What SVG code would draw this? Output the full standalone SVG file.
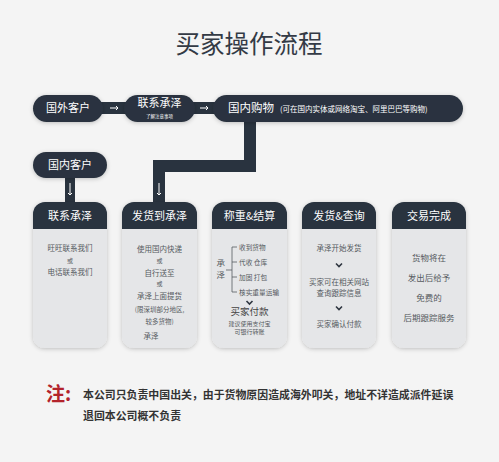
<svg xmlns="http://www.w3.org/2000/svg" width="499" height="462" viewBox="0 0 499 462">
<defs>
<filter id="sh" x="-20%" y="-20%" width="140%" height="140%">
<feDropShadow dx="0" dy="1" stdDeviation="2" flood-color="#000" flood-opacity="0.22"/>
</filter>
<style>
text{font-family:"Noto Sans CJK SC","Noto Sans",sans-serif;}
.dark{fill:#29333f;}
.pill{fill:#29333f;filter:url(#sh);}
.body{fill:#e5e6e8;filter:url(#sh);}
.wt{fill:#ffffff;text-anchor:middle;}
.ht{fill:#ffffff;text-anchor:middle;font-size:11px;}
.ct{fill:#555a60;text-anchor:middle;font-size:7.5px;}
.st{fill:#555a60;font-size:6.7px;}
.chev{fill:none;stroke:#2f3640;stroke-width:1.6;}
.br{fill:none;stroke:#555a60;stroke-width:0.8;}
.arw{stroke:#ffffff;stroke-width:1;fill:none;}
</style>
</defs>
<rect width="499" height="462" fill="#f4f4f4"/>
<text x="249" y="53" text-anchor="middle" font-size="24.5" fill="#333a45">买家操作流程</text>

<g id="connectors">
<rect class="dark" x="100" y="102" width="27" height="12"/>
<path class="arw" d="M110 108 H118 M116 106 L118 108 L116 110"/>
<rect class="dark" x="192" y="102" width="24" height="12"/>
<path class="arw" d="M200 108 H208 M206 106 L208 108 L206 110"/>
<path class="dark" d="M244 118 H256 V172 H165 V204 H153 V160 H244 Z"/>
<path class="arw" d="M159 183 V195 M157 193 L159 195 L161 193"/>
<rect class="dark" x="65" y="175" width="10" height="29"/>
<path class="arw" d="M70 183 V195 M68 193 L70 195 L72 193"/>
</g>

<g id="n-foreign">
<rect class="pill" x="33" y="95" width="70" height="27" rx="13.5"/>
<text class="wt" x="68" y="112" style="font-size:11px">国外客户</text>
</g>
<g id="n-contact-top">
<rect class="pill" x="124" y="95" width="71" height="27" rx="13.5"/>
<text class="wt" x="159.5" y="107" style="font-size:11px">联系承泽</text>
<text class="wt" x="159.5" y="118" style="font-size:4.5px">了解注意事项</text>
</g>
<g id="n-domestic-buy">
<rect class="pill" x="213" y="95" width="250" height="27" rx="13.5"/>
<text x="228" y="112" font-size="11.5" fill="#ffffff">国内购物<tspan font-size="7.5" dx="6">(可在国内实体或网络淘宝、阿里巴巴等购物)</tspan></text>
</g>
<g id="n-domestic">
<rect class="pill" x="33" y="152" width="74" height="26" rx="13"/>
<text class="wt" x="70" y="169" style="font-size:11px">国内客户</text>
</g>

<g id="card1">
<rect class="body" x="33" y="202" width="74" height="146" rx="12"/>
<path class="dark" d="M33 229 V214 A12 12 0 0 1 45 202 H95 A12 12 0 0 1 107 214 V229 Z"/>
<text class="ht" x="70" y="220">联系承泽</text>
<text class="ct" x="70" y="251">旺旺联系我们</text>
<text class="ct" x="70" y="263" style="font-size:6px">或</text>
<text class="ct" x="70" y="275">电话联系我们</text>
</g>

<g id="card2">
<rect class="body" x="122" y="202" width="75" height="146" rx="12"/>
<path class="dark" d="M122 229 V214 A12 12 0 0 1 134 202 H185 A12 12 0 0 1 197 214 V229 Z"/>
<text class="ht" x="159.5" y="220">发货到承泽</text>
<text class="ct" x="159.5" y="252">使用国内快递</text>
<text class="ct" x="159.5" y="263" style="font-size:6px">或</text>
<text class="ct" x="159.5" y="276">自行送至</text>
<text class="ct" x="159.5" y="286" style="font-size:6px">或</text>
<text class="ct" x="159.5" y="299">承泽上面提货</text>
<text class="ct" x="159.5" y="312" style="font-size:6.5px">(限深圳部分地区,</text>
<text class="ct" x="159.5" y="324" style="font-size:6.5px">较多货物)</text>
<text class="ct" x="151" y="339">承泽</text>
</g>

<g id="card3">
<rect class="body" x="212" y="202" width="75" height="146" rx="12"/>
<path class="dark" d="M212 229 V214 A12 12 0 0 1 224 202 H275 A12 12 0 0 1 287 214 V229 Z"/>
<text class="ht" x="249.5" y="220">称重&amp;结算</text>
<text class="st" x="216.5" y="266" style="font-size:8.5px">承</text>
<text class="st" x="216.5" y="277.5" style="font-size:8.5px">泽</text>
<path class="br" d="M226 270 H232 M232 247 V292 M232 247 H237 M232 262 H237 M232 277 H237 M232 292 H237"/>
<text class="st" x="239" y="250">收到货物</text>
<text class="st" x="239" y="265">代收 仓库</text>
<text class="st" x="239" y="280">加固 打包</text>
<text class="st" x="239" y="295">核实重量运输</text>
<path class="chev" d="M246.5 301 L249.5 304 L252.5 301"/>
<text class="ct" x="249.5" y="315" style="font-size:9.5px;fill:#444">买家付款</text>
<text class="ct" x="249.5" y="326" style="font-size:6px">建议使用支付宝</text>
<text class="ct" x="249.5" y="333.5" style="font-size:6px">可银行转账</text>
</g>

<g id="card4">
<rect class="body" x="302" y="202" width="74" height="146" rx="12"/>
<path class="dark" d="M302 229 V214 A12 12 0 0 1 314 202 H364 A12 12 0 0 1 376 214 V229 Z"/>
<text class="ht" x="339" y="220">发货&amp;查询</text>
<text class="ct" x="339" y="251">承泽开始发货</text>
<path class="chev" d="M336 263.5 L339 266.5 L342 263.5"/>
<text class="ct" x="339" y="285">买家可在相关网站</text>
<text class="ct" x="339" y="296">查询跟踪信息</text>
<path class="chev" d="M336 306.5 L339 309.5 L342 306.5"/>
<text class="ct" x="339" y="327">买家确认付款</text>
</g>

<g id="card5">
<rect class="body" x="392" y="202" width="74" height="146" rx="12"/>
<path class="dark" d="M392 229 V214 A12 12 0 0 1 404 202 H454 A12 12 0 0 1 466 214 V229 Z"/>
<text class="ht" x="429" y="220">交易完成</text>
<text class="ct" x="429" y="261" style="font-size:8.5px">货物将在</text>
<text class="ct" x="429" y="281" style="font-size:8.5px">发出后给予</text>
<text class="ct" x="429" y="301" style="font-size:8.5px">免费的</text>
<text class="ct" x="429" y="321" style="font-size:8.5px">后期跟踪服务</text>
</g>

<g id="note">
<text x="46" y="401" font-size="19" font-weight="bold" fill="#b3232b">注:</text>
<text x="83" y="399" font-size="10.9" font-weight="bold" fill="#333">本公司只负责中国出关，由于货物原因造成海外叩关，地址不详造成派件延误</text>
<text x="83" y="420" font-size="10.9" font-weight="bold" fill="#333">退回本公司概不负责</text>
</g>
</svg>
